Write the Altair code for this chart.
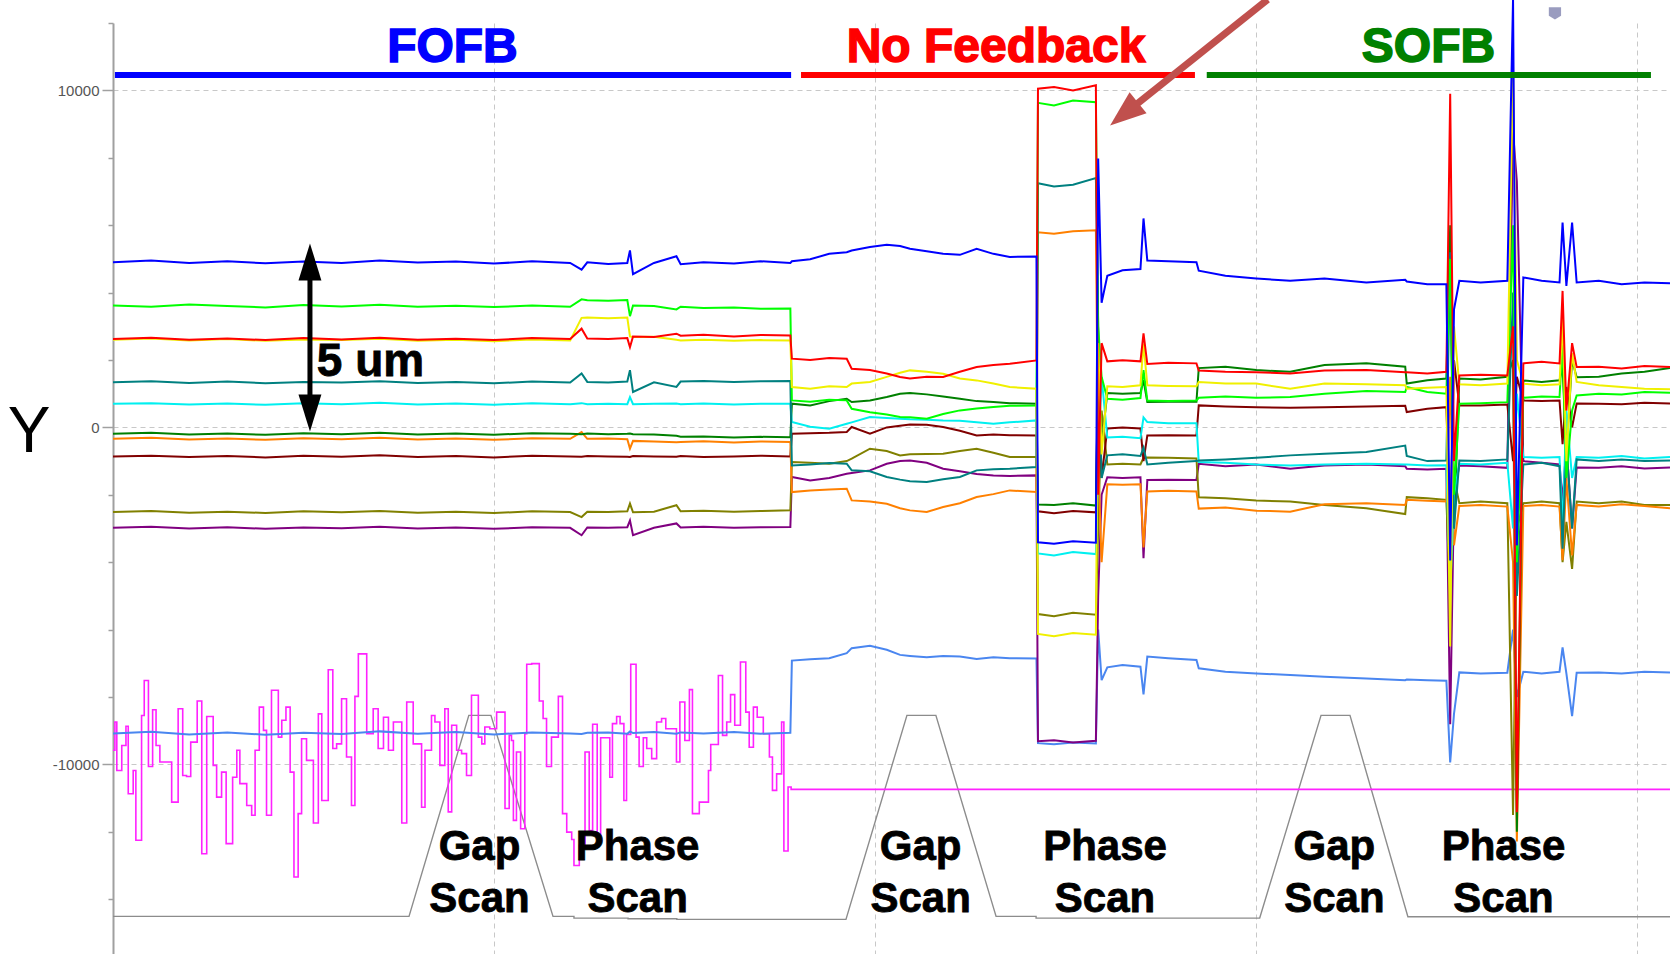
import altair as alt
import pandas as pd

# ---------------------------------------------------------------
# Time base (minutes) shared by the orbit traces, split by segment
# ---------------------------------------------------------------
T_FOFB = [0, 1, 2, 3, 4, 5, 6, 7, 8, 9, 10, 11, 12.0, 12.3, 12.45, 13.0, 13.5, 13.57, 13.65,
          14.2, 14.79, 14.9, 15.5, 16.3, 17.0, 17.78]
T_NF = [17.82, 18.3, 18.8, 19.26, 19.39, 19.87, 20.31, 20.66, 20.92, 21.36, 21.79, 22.23,
        22.67, 23.11, 23.54, 24.24]
T_BLK = [24.28, 24.7, 25.2, 25.8]
T_AFT = [25.86, 25.95, 26.1, 26.5, 26.97, 27.05, 27.15, 27.7, 28.44]
T_SOFB = [28.5, 29.2, 30.01, 30.9, 31.8, 32.9, 33.92, 33.96, 34.5, 35.0, 35.1, 35.2, 35.34,
          35.9, 36.6, 36.75, 36.85, 37.02, 37.5, 37.97, 38.05, 38.15, 38.3, 38.42, 39.0,
          39.6, 40.2, 40.87]
t = T_FOFB + T_NF + T_BLK + T_AFT + T_SOFB

# Vertical orbit (nm) per BPM, segment by segment
blue = ([4900, 4950, 4880, 4930, 4870, 4920, 4880, 4950, 4890, 4920, 4860, 4930, 4880, 4680,
         4900, 4850, 4880, 5250, 4550, 4880, 5080, 4840, 4900, 4860, 4930, 4880]
        + [4930, 4990, 5150, 5200, 5250, 5350, 5420, 5380, 5300, 5230, 5150, 5120, 5300, 5150,
           5060, 5070]
        + [-3410, -3450, -3380, -3420]
        + [7980, 3700, 4500, 4660, 4700, 6200, 4950, 4930, 4900]
        + [4650, 4500, 4420, 4350, 4420, 4300, 4380, 4330, 4250, 4250, -3950, 3500, 4350, 4300,
           4350, 12700, -3500, 4450, 4350, 4300, 6080, 4200, 6080, 4300, 4350, 4250, 4300, 4280])
lime = ([3620, 3580, 3650, 3600, 3560, 3630, 3590, 3640, 3580, 3610, 3570, 3620, 3580, 3800,
         3770, 3760, 3780, 3300, 3620, 3600, 3500, 3580, 3540, 3560, 3520, 3530]
        + [800, 760, 820, 802, 554, 450, 380, 307, 300, 257, 400, 505, 560, 604, 640, 653]
        + [9630, 9550, 9700, 9650]
        + [3000, 1500, 850, 820, 870, 1700, 800, 780, 800]
        + [880, 920, 880, 900, 1000, 1080, 1050, 1200, 1050, 1000, 5000, -2000, 700, 720, 750,
           6000, -4000, 880, 920, 900, 2500, -1500, 500, 950, 1000, 980, 1050, 1030])
yellow = ([2600, 2640, 2580, 2620, 2570, 2610, 2590, 2630, 2570, 2600, 2560, 2610, 2580, 3250,
           3260, 3240, 3260, 2700, 2680, 2690, 2600, 2580, 2600, 2570, 2590, 2580]
          + [1197, 1150, 1220, 1197, 1300, 1345, 1500, 1620, 1692, 1650, 1593, 1450, 1395, 1300,
             1197, 1147]
          + [-6130, -6200, -6100, -6150]
          + [2500, -800, 1220, 1200, 1250, 2490, 1250, 1230, 1220]
          + [1345, 1300, 1300, 1150, 1300, 1280, 1250, 1150, 1180, 1200, -6500, 3000, 1280, 1250,
             1300, 10700, 2000, 1300, 1250, 1280, 3300, -1000, 2200, 1350, 1250, 1200, 1150, 1130])
red = ([2620, 2660, 2600, 2640, 2590, 2650, 2610, 2660, 2600, 2630, 2590, 2650, 2620, 2930,
        2640, 2620, 2650, 2380, 2700, 2680, 2780, 2720, 2750, 2700, 2740, 2730]
       + [2040, 2000, 2060, 2038, 1741, 1700, 1600, 1494, 1450, 1500, 1494, 1650, 1790, 1850,
          1889, 1988]
       + [10050, 10100, 10000, 10150]
       + [-2000, 2500, 1960, 1990, 1960, 2790, 1880, 1920, 1900]
       + [1690, 1650, 1640, 1600, 1690, 1700, 1640, 1640, 1600, 1650, 9900, -1000, 1543, 1560,
          1540, 3000, -11420, 1900, 1950, 1900, 4050, 500, 2500, 1790, 1800, 1750, 1820, 1790])
teal = ([1340, 1370, 1320, 1360, 1310, 1350, 1330, 1370, 1320, 1350, 1310, 1360, 1330, 1600,
         1350, 1330, 1360, 1700, 1050, 1340, 1200, 1360, 1380, 1350, 1370, 1375]
        + [-1127, -1100, -1060, -1078, -1275, -1300, -1473, -1550, -1600, -1622, -1540, -1473,
           -1275, -1240, -1226, -1177]
        + [7246, 7150, 7200, 7400]
        + [3000, -1500, -830, -800, -850, -600, -1100, -1050, -1000]
        + [-980, -950, -900, -830, -780, -730, -540, -850, -1000, -980, 5200, -3000, -980, -1000,
           -950, 4000, -5000, -1100, -1050, -1150, -3600, -500, -3000, -950, -1000, -950, -1000,
           -980])
cyan = ([700, 720, 680, 710, 670, 720, 690, 730, 680, 710, 670, 720, 690, 720, 690, 700, 690,
         900, 690, 700, 710, 690, 710, 680, 700, 700]
        + [159, 20, -40, 109, 150, 307, 280, 257, 240, 230, 208, 200, 150, 109, 150, 208]
        + [-3740, -3800, -3700, -3760]
        + [-1000, 1500, -300, -280, -320, 300, 160, 120, 120]
        + [-1030, -1050, -1100, -1130, -1100, -1080, -1100, -1100, -1130, -1120, -4900, -2000,
           -1080, -1100, -1050, -3000, 1000, -880, -900, -880, -3000, 500, -1500, -880, -900,
           -850, -920, -880])
dkgreen = ([-190, -160, -210, -180, -220, -170, -200, -160, -210, -180, -220, -170, -190, -200,
            -180, -200, -190, -180, -200, -210, -250, -280, -270, -300, -280, -290]
           + [703, 650, 780, 851, 752, 800, 900, 999, 1020, 980, 920, 851, 780, 752, 720, 703]
           + [-2285, -2300, -2250, -2320]
           + [1500, -500, 1020, 1000, 1020, 1400, 757, 760, 760]
           + [1760, 1800, 1700, 1650, 1850, 1900, 1800, 1300, 1400, 1450, 6000, -3000, 1450, 1420,
              1500, 2000, -12000, 1390, 1350, 1400, 1800, -800, 2000, 1490, 1500, 1600, 1650,
              1760])
orange = ([-340, -310, -360, -330, -370, -320, -350, -310, -360, -330, -370, -320, -340, -140,
           -340, -330, -350, -630, -400, -420, -440, -430, -410, -450, -420, -434]
          + [-1918, -1870, -1840, -1819, -2166, -2200, -2265, -2400, -2462, -2512, -2363, -2250,
             -2067, -1980, -1869, -1918]
          + [5790, 5750, 5820, 5850]
          + [-1000, -4000, -1690, -1700, -1690, -3560, -1900, -1880, -1900]
          + [-2410, -2380, -2470, -2500, -2280, -2250, -2300, -2150, -2180, -2200, 1500, -3500,
             -2330, -2300, -2350, -4000, -12290, -2330, -2300, -2350, -3940, -1500, -3800, -2300,
             -2350, -2280, -2330, -2400])
dkred = ([-860, -840, -880, -850, -890, -840, -870, -830, -880, -850, -890, -840, -860, -870,
          -850, -860, -870, -880, -850, -860, -870, -850, -880, -860, -840, -860]
         + [-188, -170, -160, -138, 11, -188, 0, 50, 89, 80, 11, -100, -237, -210, -230, -237]
         + [-2490, -2550, -2480, -2520]
         + [2000, -1500, -30, 0, -30, -1000, -240, -230, -240]
         + [653, 620, 600, 580, 600, 620, 640, 455, 550, 600, -3000, 2000, 653, 650, 680, -1000,
            1500, 800, 780, 800, -500, 1200, 0, 710, 700, 690, 730, 710])
olive = ([-2510, -2480, -2530, -2500, -2540, -2490, -2520, -2480, -2530, -2500, -2540, -2490,
          -2510, -2660, -2500, -2510, -2490, -2260, -2520, -2500, -2310, -2490, -2470, -2500,
          -2480, -2462]
         + [-1028, -1050, -1078, -1000, -929, -633, -700, -830, -800, -790, -781, -700, -633,
            -750, -880, -880]
         + [-5540, -5600, -5500, -5560]
         + [-3000, 500, -1100, -1080, -1100, -900, -890, -900, -920]
         + [-2070, -2100, -2170, -2200, -2300, -2400, -2570, -2070, -2100, -2150, -5100, -1500,
            -2250, -2200, -2250, -11500, -3000, -2250, -2200, -2250, -4000, -2800, -4200, -2200,
            -2250, -2200, -2300, -2300])
purple = ([-2980, -2950, -3000, -2960, -3010, -2970, -2990, -2950, -3000, -2970, -3010, -2960,
           -2980, -3200, -2970, -2980, -2960, -2760, -3200, -2980, -2850, -2970, -2950, -2980,
           -2960, -2956]
          + [-1473, -1572, -1500, -1374, -1350, -1275, -1078, -1000, -979, -1050, -1226, -1300,
             -1380, -1424, -1440, -1424]
          + [-9310, -9280, -9350, -9300]
          + [-5000, -2000, -1480, -1500, -1480, -3880, -1560, -1550, -1560]
          + [-1080, -1150, -1100, -1230, -1130, -1100, -1150, -1230, -1250, -1230, -8810, -2000,
             -1130, -1150, -1200, 8760, 7300, -1000, -1050, -1100, -2200, -500, -3000, -1190,
             -1200, -1150, -1220, -1190])
ltblue = ([-9080, -9030, -9110, -9050, -9120, -9060, -9100, -9020, -9090, -9040, -9110, -9050,
           -9080, -9100, -9060, -9050, -9090, -9020, -9070, -9040, -9090, -9050, -9080, -9040,
           -9090, -9060]
          + [-6920, -6880, -6850, -6700, -6550, -6480, -6600, -6750, -6780, -6820, -6780, -6800,
             -6870, -6820, -6850, -6860]
          + [-9370, -9400, -9350, -9380]
          + [-6000, -7500, -7120, -7050, -7100, -7920, -6800, -6850, -6900]
          + [-7150, -7250, -7300, -7350, -7400, -7450, -7500, -7480, -7500, -7520, -9940, -8500,
             -7270, -7300, -7280, -6000, -8000, -7250, -7300, -7250, -6530, -7300, -8570, -7280,
             -7270, -7300, -7250, -7270])

# Stepped corrector readback (magenta)
mag_x = [0.00, 0.05, 0.10, 0.23, 0.34, 0.40, 0.53, 0.60, 0.75, 0.82, 0.93, 1.04, 1.13, 1.23,
         1.54, 1.71, 1.83, 1.93, 2.04, 2.21, 2.33, 2.46, 2.63, 2.72, 2.85, 2.97, 3.14, 3.25,
         3.33, 3.51, 3.64, 3.73, 3.84, 3.95, 4.03, 4.16, 4.34, 4.43, 4.54, 4.65, 4.75, 4.86,
         4.95, 5.08, 5.26, 5.39, 5.48, 5.65, 5.77, 5.87, 6.00, 6.13, 6.26, 6.35, 6.44, 6.66,
         6.83, 6.96, 7.10, 7.23, 7.36, 7.58, 7.71, 7.88, 8.10, 8.19, 8.36, 8.45, 8.58, 8.71,
         8.80, 8.89, 9.02, 9.15, 9.28, 9.41, 9.59, 9.68, 9.76, 9.89, 10.07,
         10.29, 10.40, 10.46, 10.51, 10.59, 10.70, 10.81, 10.86, 10.99, 11.19, 11.29, 11.38,
         11.51, 11.69, 11.80, 11.91, 12.04, 12.10, 12.24, 12.39, 12.50, 12.59, 12.71, 12.80,
         13.04, 13.11, 13.22, 13.31, 13.41, 13.48, 13.59, 13.73, 13.81, 13.92, 14.01, 14.14,
         14.27, 14.40, 14.51, 14.79, 14.88, 15.01, 15.13, 15.21, 15.39, 15.63, 15.69, 15.89,
         16.00, 16.11, 16.21, 16.32, 16.47, 16.61, 16.70, 16.81, 16.91, 17.07, 17.23, 17.31,
         17.42, 17.55, 17.61, 17.72, 17.80, 40.87]
mag_y = [-9580, -8740, -10180, -9440, -8870, -10870, -10180, -12250, -8550, -7510, -10060,
         -8380, -9440, -9930, -11120, -8350, -10330, -10360, -9340, -8120, -12650, -8580,
         -10030, -10970, -10230, -12350, -10380, -9580, -10570, -11220, -11510, -9580, -8300,
         -8990, -11510, -7800, -9190, -8690, -8300, -10230, -13340, -11460, -9240, -9880,
         -11740, -8500, -11070, -7190, -9530, -9390, -8050, -9780, -11220, -7980, -6720, -9090,
         -8350, -9530, -8600, -9580, -8740, -11740, -8150, -9390, -11270, -9580, -8550, -8740,
         -10030, -8350, -11410, -8840, -9580, -9680, -10330, -7950, -9190, -9390, -8890, -8940,
         -8450,
         -11310, -9140, -9290, -11660, -9630, -11910, -9090, -7030, -7010, -8120, -8640,
         -10060, -9190, -7980, -11460, -12010, -12230, -13000, -12400, -9630, -11960, -8810,
         -12250, -9210, -10380, -8790, -8580, -8790, -11070, -9110, -7030, -9190, -10060, -9210,
         -9530, -9830, -8740, -8640, -8940, -9930, -8150, -9290, -7780, -11460, -11120, -10180,
         -9410, -7360, -9140, -8740, -7930, -8840, -6960, -8450, -9490, -8300, -8600, -9090,
         -9780, -10770, -10280, -8740, -12570, -10670, -10740, -10740]

# Undulator gap (grey, arbitrary offset)
gap_x = [0, 7.77, 9.34, 9.92, 11.55, 12.1, 12.1, 13.52, 13.52, 14.8, 14.8, 19.24, 20.84, 21.6,
         23.18, 24.23, 24.23, 30.1, 31.71, 32.47, 33.99, 40.87]
gap_y = [-14510, -14510, -8546, -8546, -14510, -14510, -14560, -14560, -14580, -14580, -14600,
         -14600, -8546, -8546, -14510, -14510, -14560, -14560, -8546, -8546, -14520, -14520]

# Section banners
sec_names = ["FOFB", "No Feedback", "SOFB"]
sec_colors = ["#0000ff", "#ff0000", "#008000"]
sec_start = [0.05, 18.06, 28.71]
sec_end = [17.8, 28.4, 40.37]
sec_mid = [8.91, 23.18, 34.53]

# Scan annotations
scan_words = ["Gap", "Scan", "Phase", "Scan", "Gap", "Scan", "Phase", "Scan", "Gap", "Scan",
              "Phase", "Scan"]
scan_x = [9.62, 9.62, 13.77, 13.77, 21.2, 21.2, 26.04, 26.04, 32.06, 32.06, 36.5, 36.5]
scan_y = [-12850, -14370] * 6

# ---------------------------------------------------------------
X_DOMAIN = [0, 40.87]
Y_DOMAIN = [-15626, 12000]

x_axis = alt.Axis(values=[10, 20, 30, 40], labels=False, ticks=False, domain=False, grid=True,
                  gridDash=[5, 4], gridColor="#c8c8c8", gridWidth=1)
major = "datum.value % 10000 === 0"
y_axis = alt.Axis(values=list(range(-14000, 12001, 2000)),
                  labelExpr=f"{major} ? '' + datum.value : ''",
                  labelOverlap=False,
                  tickSize={"condition": {"test": major, "value": 11}, "value": 5},
                  gridOpacity={"condition": {"test": major, "value": 1}, "value": 0},
                  grid=True, gridDash=[5, 4], gridColor="#c8c8c8", gridWidth=1,
                  domainColor="#a0a0a0", domainWidth=2, tickColor="#a0a0a0", tickWidth=1.5,
                  labelColor="#555555", labelFont="Liberation Sans", labelFontSize=15,
                  labelPadding=3)

X = alt.X("x:Q", scale=alt.Scale(domain=X_DOMAIN, nice=False, zero=False), axis=x_axis,
          title=None)
Y = alt.Y("y:Q", scale=alt.Scale(domain=Y_DOMAIN, nice=False, zero=False), axis=y_axis,
          title=None)


def trace(xs, ys, color, width, interp="linear"):
    df = pd.DataFrame({"x": xs, "y": ys, "i": list(range(len(xs)))})
    return alt.Chart(df).mark_line(color=color, strokeWidth=width, interpolate=interp).encode(
        x=X, y=Y, order="i:Q")


layers = [
    trace(gap_x, gap_y, "#8c8c8c", 1.4),
    trace(mag_x, mag_y, "#ff22ff", 1.6, "step-after"),
    trace(t, ltblue, "#4a86f0", 2),
]
for ys, col in [(purple, "#800080"), (olive, "#808000"), (dkred, "#800000"),
                (orange, "#ff8000"), (dkgreen, "#008000"), (cyan, "#00f0f0"),
                (teal, "#008080"), (lime, "#00ff00"), (yellow, "#f0f000"),
                (red, "#ff0000"), (blue, "#0000ff")]:
    layers.append(trace(t, ys, col, 2))

# Banners over each feedback mode
sec_df = pd.DataFrame({"x": sec_start, "x2": sec_end, "y": [10457] * 3, "c": sec_colors,
                       "xm": sec_mid, "yt": [10837] * 3, "label": sec_names})
layers.append(alt.Chart(sec_df).mark_rule(strokeWidth=6).encode(
    x=X, x2="x2:Q", y=Y, color=alt.Color("c:N", scale=None)))
layers.append(alt.Chart(sec_df).mark_text(
    font="Liberation Sans", fontSize=48, fontWeight="bold", align="center",
    baseline="alphabetic", strokeWidth=1.5).encode(
    x=alt.X("xm:Q", scale=alt.Scale(domain=X_DOMAIN, nice=False, zero=False), axis=x_axis,
            title=None),
    y=alt.Y("yt:Q", scale=alt.Scale(domain=Y_DOMAIN, nice=False, zero=False), axis=y_axis,
            title=None),
    text="label:N", color=alt.Color("c:N", scale=None), stroke=alt.Stroke("c:N", scale=None)))

# Gap / Phase scan labels
scan_df = pd.DataFrame({"x": scan_x, "y": scan_y, "label": scan_words})
layers.append(alt.Chart(scan_df).mark_text(
    font="Liberation Sans", fontSize=42, fontWeight="bold", align="center",
    baseline="alphabetic", color="black", stroke="black", strokeWidth=0.8).encode(
    x=X, y=Y, text="label:N"))

# 5 um scale bar with arrowheads
bar_df = pd.DataFrame({"x": [5.17], "y": [4911], "y2": [430]})
layers.append(alt.Chart(bar_df).mark_rule(strokeWidth=5, color="black").encode(
    x=X, y=Y, y2="y2:Q"))
head = "M0,-1L0.62,1L-0.62,1Z"
layers.append(alt.Chart(pd.DataFrame({"x": [5.17], "y": [4911]})).mark_point(
    shape=head, filled=True, size=1369, color="black", opacity=1, strokeWidth=0).encode(
    x=X, y=Y))
layers.append(alt.Chart(pd.DataFrame({"x": [5.17], "y": [430]})).mark_point(
    shape=head, filled=True, size=1369, color="black", opacity=1, strokeWidth=0,
    angle=180).encode(x=X, y=Y))
layers.append(alt.Chart(pd.DataFrame({"x": [5.35], "y": [1513], "label": ["5 um"]})).mark_text(
    font="Liberation Sans", fontSize=46, fontWeight="bold", align="left",
    baseline="alphabetic", color="black", stroke="black", strokeWidth=0.8).encode(
    x=X, y=Y, text="label:N"))

# Axis letter
layers.append(alt.Chart(pd.DataFrame({"x": [-2.2], "y": [-730], "label": ["Y"]})).mark_text(
    font="Liberation Sans", fontSize=64, align="center", baseline="alphabetic",
    color="black").encode(x=X, y=Y, text="label:N"))

# Pointer to the phase-scan excursion without feedback
ptr_df = pd.DataFrame({"x": [30.31], "y": [12700], "x2": [26.54], "y2": [9294]})
layers.append(alt.Chart(ptr_df).mark_rule(strokeWidth=7, color="#c0504d").encode(
    x=X, y=Y, x2="x2:Q", y2="y2:Q"))
layers.append(alt.Chart(pd.DataFrame({"x": [26.54], "y": [9294]})).mark_point(
    shape="M0,-1L0.75,1L-0.75,1Z", filled=True, size=1296, color="#c0504d", opacity=1,
    strokeWidth=0, angle=231).encode(x=X, y=Y))

# Cursor marker at the top edge
layers.append(alt.Chart(pd.DataFrame({"x": [37.85], "y": [12285]})).mark_point(
    shape="M-1,-1L1,-1L1,0.4L0,1L-1,0.4Z", filled=True, size=150, color="#9a9cbf",
    opacity=1, strokeWidth=0).encode(x=X, y=Y))

chart = alt.layer(*layers).properties(
    width=1557, height=931,
    autosize=alt.AutoSizeParams(type="none"),
    padding={"left": 113, "top": 23, "right": 0, "bottom": 0},
    background="white",
).configure_view(strokeWidth=0)

chart.save("out.html", embed_options={"renderer": "svg", "actions": False})
